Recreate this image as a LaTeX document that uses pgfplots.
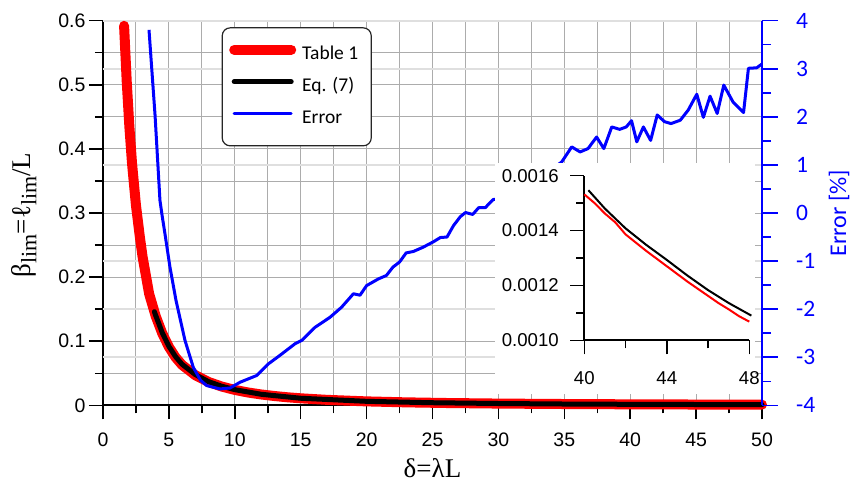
\documentclass[border=0pt]{standalone}
\usepackage{fontspec}
\setmainfont{Liberation Sans}
\newfontfamily\carlito{Carlito}
\newfontfamily\tnr{Liberation Serif}
\usepackage{pgfplots}
\pgfplotsset{compat=1.18}
\pgfplotsset{/pgf/number format/assume math mode=true}
\newcommand{\sub}[1]{\raisebox{-0.22em}{\fontsize{22}{22}\selectfont #1}}
\begin{document}
\begin{tikzpicture}
\path[use as bounding box] (-103pt,-78.7pt) rectangle (747pt,405.3pt);
% ---------------- main axis (beta) ----------------
\begin{axis}[
  at={(0pt,0pt)}, anchor=south west,
  scale only axis, width=659pt, height=384.6pt,
  xmin=0, xmax=50, ymin=0, ymax=0.6,
  clip=false,
  axis x line*=bottom, axis y line*=left,
  axis line style={line width=2pt, black},
  xtick distance=5, ytick distance=0.1,
  minor x tick num=1, minor y tick num=1,
  tick align=outside, major tick length=14pt, minor tick length=8pt,
  every tick/.style={black, line width=1.5pt},
  grid=both,
  major grid style={gray!65, line width=0.9pt},
  minor grid style={gray!65, line width=0.9pt},
  extra y ticks={0.075,0.15,0.225,0.375,0.525,0.6},
  extra y tick labels={},
  extra y tick style={grid=major, major grid style={gray!25, line width=2pt}, major tick length=0pt},
  tick label style={font=\fontsize{19.5}{20}\selectfont},
  xticklabel style={yshift=-10pt},
  xlabel={\tnr\fontsize{27}{30}\selectfont δ=λL},
  xlabel style={at={(axis description cs:0.5,-0.189)}, anchor=base},
  ylabel={\tnr\fontsize{27}{30}\selectfont β\sub{lim}=ℓ\sub{lim}/L},
  ylabel style={at={(axis description cs:-0.1200,0.495)}, anchor=center},
]
\addplot[red, line width=10pt, line cap=round, line join=round] table {
1.6 0.592
1.8 0.505
2.0 0.435
2.2 0.378
2.5 0.312
2.8 0.262
3.0 0.232
3.5 0.174
4.0 0.139
4.5 0.112
5.0 0.091
5.5 0.075
6.0 0.063
7.0 0.047
8.0 0.0365
9.0 0.0293
10 0.0240
11 0.0200
12 0.0169
13 0.0145
14 0.0125
15 0.0109
17 0.0085
20 0.0061
23 0.0046
26 0.0036
30 0.0027
35 0.0020
40 0.00153
45 0.00121
50 0.00098
};
\addplot[black, line width=5pt, line cap=round, line join=round] table {
3.9 0.146
4.0 0.140
4.5 0.113
5 0.092
5.5 0.076
6 0.064
7 0.048
8 0.037
9 0.0298
10 0.0244
12 0.0172
15 0.0110
20 0.0062
25 0.0040
30 0.0028
35 0.0020
40 0.00155
45 0.00124
50 0.00099
};
\end{axis}
% ---------------- error axis ----------------
\begin{axis}[
  at={(0pt,0pt)}, anchor=south west,
  scale only axis, width=659pt, height=384.6pt,
  xmin=0, xmax=50, ymin=-4, ymax=4,
  axis x line=none, axis y line*=right,
  axis line style={blue, line width=2.5pt},
  ytick distance=1, minor y tick num=1,
  tick align=outside, major tick length=15.7pt, minor tick length=9pt,
  every tick/.style={blue, line width=1.5pt},
  yticklabel style={font=\carlito\fontsize{23.5}{24}\selectfont, text=blue, xshift=15pt},
  ylabel={Error [\%]},
  ylabel style={font=\carlito\fontsize{24}{26}\selectfont, text=blue, at={(axis description cs:1.117,0.5)}, anchor=center},
  legend style={at={(rel axis cs:0.180,0.983)}, anchor=north west,
    draw=black!85, line width=1.2pt, rounded corners=8pt, fill=white,
    font=\carlito\fontsize{19.5}{21}\selectfont,
    inner xsep=7pt, inner ysep=17pt, row sep=14pt,
    nodes={inner xsep=6pt, inner ysep=0pt, text height=13pt, text depth=5pt}},
  legend cell align=left,
  legend image code/.code={\draw[#1, line cap=round] (4pt,6pt) -- (61pt,6pt);},
]
\addlegendimage{red, line width=10pt}
\addlegendentry{Table 1}
\addlegendimage{black, line width=5pt}
\addlegendentry{Eq. (7)}
\addplot[blue, line width=3pt, line join=round] table {
3.49 3.81
3.95 2.03
4.32 0.265
4.50 -0.08
4.70 -0.43
5.08 -1.125
5.54 -1.82
6.22 -2.65
6.85 -3.21
7.4 -3.48
7.87 -3.59
8.88 -3.66
9.64 -3.64
10.4 -3.52
11.03 -3.45
11.66 -3.38
12.54 -3.14
13.43 -2.96
14.57 -2.72
15.08 -2.65
16.1 -2.375
17.22 -2.17
18.1 -1.96
19.0 -1.68
19.5 -1.71
20.0 -1.51
20.9 -1.37
21.5 -1.30
22.0 -1.125
22.5 -1.02
23.0 -0.83
23.55 -0.80
24.3 -0.71
25.06 -0.60
25.6 -0.51
26.1 -0.50
26.6 -0.26
27.1 -0.08
27.5 0.01
28.05 -0.03
28.5 0.11
29.0 0.11
29.6 0.28
30.2 0.30
31.0 0.45
32.5 0.70
34.0 0.90
34.8 1.06
35.56 1.375
36.2 1.27
36.8 1.34
37.45 1.58
38.0 1.34
38.6 1.79
39.2 1.74
39.7 1.79
40.1 1.92
40.5 1.48
41.0 1.79
41.55 1.51
42.05 2.04
42.6 1.90
43.1 1.86
43.8 1.93
44.4 2.14
45.05 2.47
45.55 1.99
46.06 2.43
46.6 2.07
47.1 2.66
47.8 2.31
48.6 2.09
48.97 3.01
49.6 3.02
50.0 3.10
};
\addlegendentry{Error}
\fill[white] (axis cs:29.74,-3.76) rectangle (axis cs:49.47,1.035);
\end{axis}
% ---------------- inset ----------------
\begin{axis}[
  at={(481.3pt,65pt)}, anchor=south west,
  scale only axis, width=165pt, height=164.6pt,
  xmin=40, xmax=48, ymin=0.001, ymax=0.0016,
  clip=false,
  axis x line*=bottom, axis y line*=left,
  axis line style={line width=2pt, black},
  xtick={40,44,48}, minor xtick={42,46},
  ytick={0.0010,0.0012,0.0014,0.0016}, minor ytick={0.0011,0.0013,0.0015},
  tick align=outside, major tick length=14pt, minor tick length=8pt,
  every tick/.style={black, line width=1.5pt},
  scaled y ticks=false,
  tick label style={font=\fontsize{18.6}{20}\selectfont},
  yticklabel style={/pgf/number format/.cd, fixed, fixed zerofill, precision=4, /tikz/.cd, xshift=-8pt},
  xticklabel style={yshift=-14pt},
]
\addplot[black, line width=2pt] table {
40.2 0.001547
41 0.001480
42 0.001408
43 0.001348
44 0.001293
45 0.001236
46 0.001183
47 0.001136
48.1 0.001090
};
\addplot[red, line width=2pt] table {
40.0 0.001532
40.5 0.001500
41.0 0.001462
41.5 0.001430
42.0 0.001386
42.5 0.001356
43.0 0.001326
43.5 0.001298
44.0 0.001270
44.5 0.001242
45.0 0.001214
45.5 0.001188
46.0 0.001162
46.5 0.001136
47.0 0.001113
47.5 0.001088
48.0 0.001068
};
\end{axis}
\end{tikzpicture}
\end{document}
